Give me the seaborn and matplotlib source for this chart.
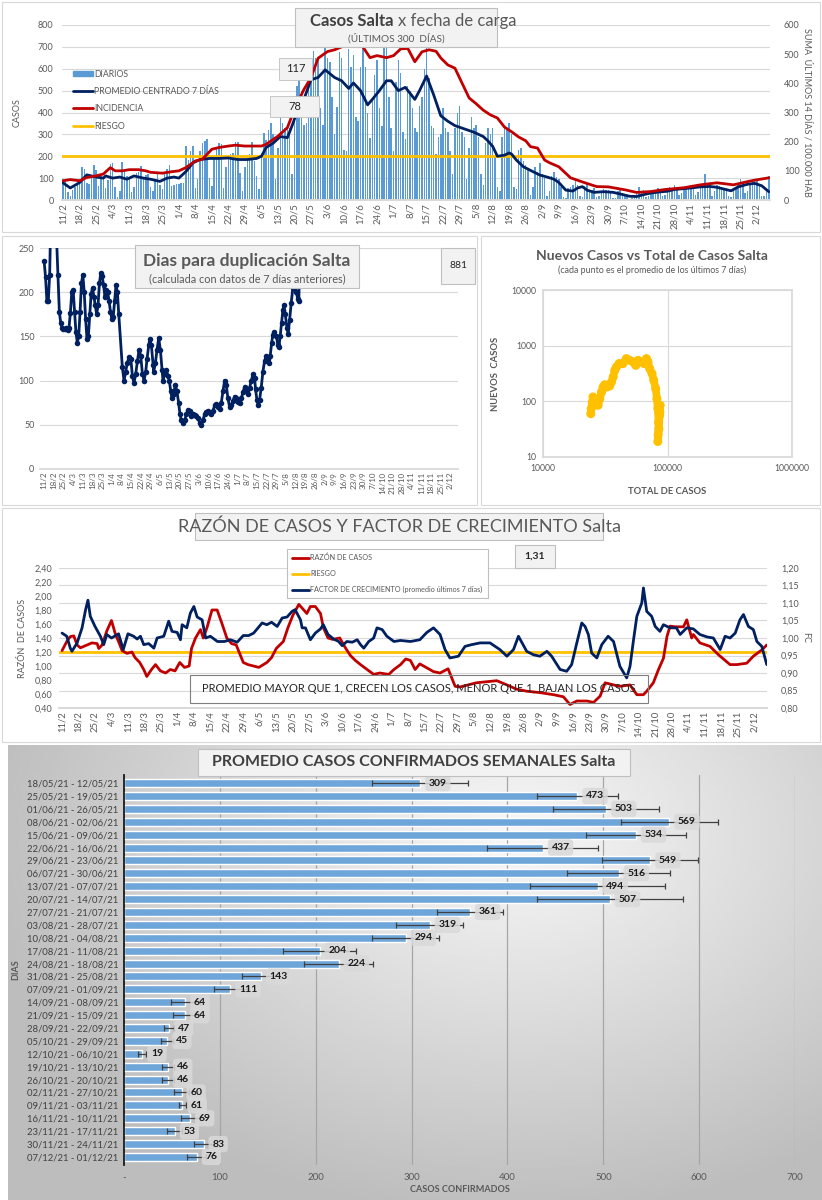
import numpy as np
import pandas as pd
import matplotlib
matplotlib.use("Agg")
import matplotlib.pyplot as plt
from matplotlib.patches import Rectangle, Patch
from matplotlib.lines import Line2D
from matplotlib.ticker import FuncFormatter, NullLocator
import seaborn as sns

# =============================================================================
# DATOS
# =============================================================================
inicio = pd.Timestamp("2021-02-11")

# casos diarios (una fila por semana, desde el jueves 11/2)
diarios = [
    95, 90, 35, 20, 45, 60, 70,
    95, 150, 140, 80, 75, 110, 160,
    135, 65, 110, 95, 55, 90, 165,
    170, 60, 15, 40, 175, 140, 110,
    95, 35, 60, 125, 130, 155, 100,
    115, 120, 60, 40, 95, 130, 70,
    50, 130, 140, 160, 65, 70, 75,
    75, 80, 80, 245, 185, 225, 245,
    55, 95, 225, 260, 270, 280, 100,
    65, 195, 240, 260, 255, 55, 150,
    200, 210, 215, 265, 265, 125, 40,
    150, 205, 210, 265, 180, 110, 50,
    200, 305, 275, 320, 350, 300, 95,
    240, 380, 350, 330, 345, 330, 120,
    380, 520, 560, 500, 345, 350, 520,
    640, 680, 650, 640, 420, 345, 750,
    650, 630, 470, 300, 425, 675, 650,
    230, 225, 690, 610, 665, 380, 360,
    610, 700, 610, 400, 285, 455, 570,
    640, 420, 340, 710, 820, 470, 330,
    225, 540, 640, 580, 310, 280, 520,
    500, 420, 330, 310, 430, 470, 600,
    800, 560, 340, 330, 210, 290, 300,
    420, 330, 310, 225, 120, 330, 400,
    430, 310, 290, 95, 240, 380, 330,
    345, 290, 120, 70, 260, 330, 300,
    330, 200, 60, 40, 290, 330, 330,
    350, 300, 60, 50, 230, 240, 180,
    160, 140, 25, 60, 150, 130, 170,
    120, 100, 20, 40, 110, 130, 105,
    95, 60, 15, 10, 55, 60, 70,
    90, 70, 20, 15, 65, 80, 40,
    45, 55, 15, 20, 40, 50, 45,
    45, 40, 10, 10, 40, 45, 30,
    25, 15, 5, 10, 20, 30, 60,
    40, 45, 15, 20, 40, 45, 40,
    55, 40, 20, 25, 55, 60, 55,
    70, 45, 25, 30, 60, 65, 60,
    70, 50, 25, 35, 65, 70, 120,
    75, 55, 20, 40, 70, 65, 55,
    50, 45, 20, 15, 45, 60, 80,
    95, 80, 30, 40, 70, 85, 90,
    95, 70, 20, 20, 40, 110,
]

# promedio centrado 7 dias (dia desde 11/2, casos)
prom_dia = [0, 3, 7, 10, 14, 17, 18, 21, 24, 27, 30, 34, 37, 41, 44, 47, 49, 52, 55, 58,
            62, 66, 70, 74, 78, 82, 84, 86, 89, 92, 95, 97, 99, 102, 105, 108, 111, 115,
            118, 121, 123, 126, 129, 131, 134, 137, 139, 142, 145, 149, 151, 154, 157,
            160, 163, 166, 170, 174, 178, 180, 182, 184, 187, 189, 190, 192, 195, 199,
            202, 205, 208, 210, 213, 216, 218, 220, 222, 225, 229, 233, 237, 240, 243,
            245, 249, 252, 256, 259, 263, 266, 270, 274, 277, 280, 283, 286, 290, 293,
            296, 299]
prom_val = [78, 55, 80, 115, 105, 100, 110, 100, 105, 95, 110, 100, 95, 85, 100, 105, 100,
            130, 170, 185, 190, 190, 192, 185, 185, 190, 200, 240, 260, 290, 285, 340, 400,
            460, 550, 560, 595, 560, 545, 510, 535, 500, 435, 460, 500, 545, 545, 500, 515,
            460, 500, 567, 480, 385, 360, 340, 325, 310, 290, 270, 245, 200, 205, 215, 210,
            183, 152, 130, 114, 105, 95, 80, 45, 41, 55, 61, 45, 35, 38, 35, 25, 17, 16, 22,
            32, 36, 40, 48, 52, 55, 60, 62, 58, 50, 42, 60, 72, 76, 65, 38]

# incidencia: suma ultimos 14 dias / 100.000 hab
inc_dia = [0, 3, 7, 10, 14, 17, 20, 22, 25, 28, 32, 35, 37, 42, 46, 49, 52, 56, 59, 63,
           66, 70, 73, 77, 84, 86, 91, 95, 98, 102, 105, 108, 112, 115, 118, 121, 124,
           127, 130, 133, 137, 140, 143, 146, 149, 152, 155, 158, 160, 163, 166, 169,
           172, 175, 178, 181, 184, 187, 190, 193, 196, 198, 201, 204, 206, 210, 215,
           220, 226, 231, 238, 243, 249, 255, 263, 270, 277, 284, 290, 293, 299]
inc_val = [66, 70, 66, 77, 83, 89, 111, 100, 100, 104, 104, 100, 95, 92, 97, 100, 111, 134,
           140, 174, 180, 185, 188, 185, 185, 191, 219, 248, 311, 379, 419, 486, 509, 515,
           525, 548, 555, 525, 488, 495, 488, 495, 518, 520, 474, 508, 515, 510, 487, 463,
           452, 401, 350, 330, 308, 292, 281, 250, 234, 216, 203, 183, 178, 137, 128, 114,
           76, 62, 46, 45, 35, 26, 29, 36, 42, 52, 59, 52, 63, 68, 76]

riesgo_casos = 200

# dias para duplicacion
dup_dia = list(range(55)) + [
    56.6, 57.8, 59, 60.2, 61.4, 62.7, 63.9, 65, 66.3, 67.5, 68.7, 69.9, 71.1, 72.3, 73.5,
    74.5, 75.7, 76.4, 77.6, 78.8, 79.3, 80.5, 81.7, 82.9, 84.1, 85.3, 86, 87.2, 88.4, 89.6,
    90.6, 91.6, 92.5, 93.7, 94.9, 96.1, 97.3, 98.3, 99.3, 100.5, 101.7, 102.9, 104.1, 105.3,
    106.5, 107.7, 108.9, 110.1, 111.3, 112.5, 113.7, 114.9, 116.1, 117.3, 118.6, 119.8, 121,
    122.2, 123.4, 124.6, 125.8, 127, 128.2, 129.4, 130.6, 131.8, 133, 134.2, 135.4, 136.6,
    137.8, 139, 140.2, 141.4, 142.7, 143.9, 145.1, 146.3, 147.5, 148.7, 149.9, 151.1, 152.3,
    153, 154, 155, 155.9, 157.1, 158.3, 159.5, 160.7, 161.9, 162.7, 163.6, 164.6, 165.5,
    166.7, 168, 169.2, 169.9, 170.8, 171.8, 172.8, 173.5, 174.5, 175.7, 176.6, 177.6, 178.8,
    180, 181.2, 182.4, 183.6, 184.3, 185.3, 186.3]
dup_val = [
    235, 217, 190, 190, 220, 300, 330, 320, 290, 260,
    220, 178, 165, 160, 158, 158, 160, 157, 160, 177,
    200, 202, 178, 155, 143, 150, 178, 210, 220, 200,
    170, 147, 150, 175, 198, 205, 195, 185, 175, 185,
    210, 222, 218, 208, 195, 202, 200, 190, 178, 170,
    172, 190, 208, 200, 175,
    115, 100, 110, 120, 127, 125, 105, 97, 108, 122, 135, 128, 108, 100, 110,
    125, 140, 147, 140, 118, 110, 120, 135, 148, 135, 112, 100, 108, 112, 105,
    100, 88, 80, 85, 95, 88, 75, 62, 55, 52, 55, 62, 67, 66,
    60, 62, 61, 60, 58, 52, 50, 55, 62, 65, 66, 63, 62,
    66, 72, 73, 70, 68, 75, 88, 100, 95, 80, 70, 72, 77,
    82, 80, 76, 75, 80, 87, 93, 88, 85, 92, 100, 107, 103,
    90, 78, 72, 78, 92, 110, 122, 128, 125, 120, 128, 142, 152,
    155, 150, 140, 138, 150, 165, 180, 185, 175, 160, 153, 168, 188,
    205, 220, 200, 192, 190, 260, 320]

# nuevos casos vs total (promedio 7 dias)
total_casos = [24200, 24400, 24900, 25200, 25900, 26900, 27700, 28600, 29500, 30400, 31300,
               32700, 34300, 35500, 36600, 37700, 38900, 40800, 43900, 46700, 49700, 52900,
               55600, 58000, 60900, 64800, 67700, 69700, 71900, 75100, 77500, 80400, 82200,
               83600, 84700, 84100, 83600, 85300, 86400, 87400, 86800]
nuevos_casos = [60, 74, 97, 120, 111, 97, 85, 111, 147, 181, 199, 181, 189, 222, 274, 360,
                415, 477, 477, 585, 546, 512, 443, 546, 512, 477, 585, 512, 387, 315, 240,
                169, 111, 74, 42, 25, 19, 32, 56, 85, 64]

# razon de casos (eje izq.)
razon_dia = [0, 2, 3.5, 5, 6.4, 7.8, 10.6, 12.7, 14.9, 15.6, 17, 19, 21, 22.7, 24, 25.5,
             27.6, 29.7, 31, 33, 34.7, 36, 38, 39.7, 41.8, 44, 46, 48, 50, 52, 54, 55, 56.7,
             58.8, 60, 61.6, 63.7, 65.9, 68, 70, 72, 74, 77, 79, 83.6, 87, 89, 91, 94, 96,
             98, 100.6, 102.7, 104, 105.5, 107.6, 109.8, 111, 113, 115, 118, 120, 122.5,
             124.6, 126.8, 129.6, 132.4, 135, 138.8, 141, 143.8, 146, 148, 150, 152, 157.8,
             160.6, 164, 167, 169, 176, 184.7, 189, 193, 197.4, 203, 208.8, 213, 215.8,
             218.7, 223, 225.8, 228.6, 230.7, 234.3, 237, 241.3, 244.2, 247, 248.4, 251.2,
             253.4, 255.5, 257, 258.3, 260.5, 264, 265.4, 267.5, 268.2, 271, 275.3, 278.9,
             283.8, 286.7, 290.9, 293.7, 297.3, 299.4]
razon_val = [1.22, 1.35, 1.42, 1.43, 1.30, 1.26, 1.30, 1.33, 1.32, 1.25, 1.30, 1.50, 1.65,
             1.45, 1.35, 1.22, 1.18, 1.20, 1.12, 1.05, 0.95, 0.85, 0.95, 1.02, 0.93, 0.90,
             0.95, 0.93, 1.05, 0.98, 1.00, 1.25, 1.40, 1.52, 1.40, 1.55, 1.80, 1.80, 1.60,
             1.40, 1.32, 1.30, 1.05, 1.02, 0.98, 1.05, 1.12, 1.25, 1.35, 1.55, 1.72, 1.88,
             1.80, 1.75, 1.85, 1.85, 1.75, 1.55, 1.40, 1.38, 1.40, 1.28, 1.15, 1.08, 1.02,
             0.95, 0.88, 0.90, 0.88, 0.95, 1.02, 1.10, 1.08, 0.95, 1.03, 0.92, 0.90, 0.96,
             0.71, 0.70, 0.76, 0.79, 0.73, 0.67, 0.64, 0.62, 0.59, 0.56, 0.45, 0.50, 0.50,
             0.48, 0.57, 0.76, 0.73, 0.71, 0.73, 0.59, 0.59, 0.64, 0.76, 0.95, 1.11, 1.42,
             1.57, 1.56, 1.56, 1.66, 1.40, 1.45, 1.33, 1.28, 1.16, 1.02, 1.02, 1.04, 1.14,
             1.23, 1.30]

# factor de crecimiento (eje der.)
fc_dia = [0, 2, 3.5, 4.2, 6.4, 8.5, 10, 11, 12, 14, 16.3, 17.7, 19, 21, 24, 26, 28, 30.4,
          31.9, 33.3, 34.7, 36.8, 39, 40.4, 43.2, 45.3, 46.7, 48.9, 50.3, 51, 53, 54.5, 56,
          57.4, 59.5, 61, 63, 66, 69, 71.5, 74.4, 77, 79.3, 81.4, 85, 87, 89, 91.4, 93.5,
          95.6, 97.7, 99, 101.3, 102, 103.4, 105.5, 107.6, 109.8, 111, 113, 115.4, 117.5,
          119, 121, 123.3, 125.4, 126.8, 128.2, 130.3, 132.4, 133.8, 136, 138, 141, 143.8,
          148, 152, 155, 157.8, 160.6, 162.7, 164.8, 168.4, 171.2, 174, 177.6, 181.8, 184,
          186, 189, 191.8, 193.9, 197.4, 200.3, 203, 206, 208, 211.6, 214.4, 216.5, 218.7,
          220.8, 222.2, 223.6, 225, 227.2, 229.3, 232, 234.3, 237, 239.9, 241.3, 242.8,
          244.2, 246.3, 247, 248.4, 250.5, 252, 254, 255.5, 258.3, 261, 262.6, 265.4, 268.2,
          271, 274, 276.7, 279.6, 281.7, 283.8, 286, 288, 289.5, 291.6, 293.7, 295.2, 297.3,
          299.4]
fc_val = [1.014, 1.005, 0.971, 0.962, 0.986, 1.029, 1.081, 1.108, 1.062, 1.033, 1.005,
          0.981, 1.010, 1.000, 1.012, 0.967, 1.012, 1.005, 0.997, 1.005, 0.981, 0.984, 0.971,
          1.000, 1.005, 1.048, 1.019, 1.016, 0.995, 1.038, 1.029, 1.071, 1.090, 1.060, 1.052,
          1.000, 1.005, 0.990, 0.990, 0.995, 0.988, 1.007, 1.007, 1.014, 1.043, 1.038, 1.045,
          1.033, 1.057, 1.060, 1.076, 1.081, 1.052, 1.029, 1.029, 0.995, 1.014, 1.026, 1.038,
          1.010, 0.997, 0.990, 0.978, 0.990, 0.988, 0.995, 0.981, 0.971, 0.990, 1.000, 1.029,
          1.024, 1.005, 0.990, 0.993, 0.990, 0.995, 1.016, 1.029, 1.010, 0.967, 0.943, 0.948,
          0.976, 0.981, 0.986, 0.986, 0.976, 0.967, 0.948, 0.967, 1.005, 0.962, 0.952, 0.948,
          0.962, 0.948, 0.910, 0.905, 0.924, 0.986, 1.043, 1.033, 1.010, 0.957, 0.943, 0.981,
          1.005, 0.990, 0.919, 0.886, 0.919, 0.995, 1.062, 1.100, 1.143, 1.076, 1.062, 1.033,
          1.019, 1.038, 1.029, 1.029, 1.010, 1.029, 1.026, 1.010, 1.003, 1.000, 0.967, 1.005,
          1.000, 1.014, 1.052, 1.067, 1.033, 1.024, 0.990, 0.976, 0.924]

riesgo_razon = 1.20

# promedio semanal de casos confirmados
semanas = ["18/05/21 - 12/05/21", "25/05/21 - 19/05/21", "01/06/21 - 26/05/21",
           "08/06/21 - 02/06/21", "15/06/21 - 09/06/21", "22/06/21 - 16/06/21",
           "29/06/21 - 23/06/21", "06/07/21 - 30/06/21", "13/07/21 - 07/07/21",
           "20/07/21 - 14/07/21", "27/07/21 - 21/07/21", "03/08/21 - 28/07/21",
           "10/08/21 - 04/08/21", "17/08/21 - 11/08/21", "24/08/21 - 18/08/21",
           "31/08/21 - 25/08/21", "07/09/21 - 01/09/21", "14/09/21 - 08/09/21",
           "21/09/21 - 15/09/21", "28/09/21 - 22/09/21", "05/10/21 - 29/09/21",
           "12/10/21 - 06/10/21", "19/10/21 - 13/10/21", "26/10/21 - 20/10/21",
           "02/11/21 - 27/10/21", "09/11/21 - 03/11/21", "16/11/21 - 10/11/21",
           "23/11/21 - 17/11/21", "30/11/21 - 24/11/21", "07/12/21 - 01/12/21"]
promedio_semanal = [309, 473, 503, 569, 534, 437, 549, 516, 494, 507, 361, 319, 294, 204, 224,
                    143, 111, 64, 64, 47, 45, 19, 46, 46, 60, 61, 69, 53, 83, 76]
error_semanal = [50, 42, 55, 51, 52, 58, 50, 54, 70, 76, 34, 35, 35, 38, 36, 20, 17, 15, 13,
                 5, 6, 4, 6, 6, 8, 4, 10, 8, 10, 10]

# =============================================================================
# ESTILO / HELPERS
# =============================================================================
sns.set_theme(style="white")
plt.rcParams["font.family"] = ["Lato", "DejaVu Sans"]

GRIS = "#595959"
AZUL = "#002060"
ROJO = "#C00000"
AMARILLO = "#FFC000"

W, H = 822, 1200
fig = plt.figure(figsize=(W / 100, H / 100), dpi=100)


def fechas(dias):
    return inicio + pd.to_timedelta(np.asarray(dias, dtype=float), unit="D")


def ejes(l, t, r, b):
    return fig.add_axes([l / W, 1 - b / H, (r - l) / W, (b - t) / H])


def caja(l, t, r, b, fc="#f2f2f2", ec="#bfbfbf", lw=0.8, z=5):
    fig.patches.append(Rectangle((l / W, 1 - b / H), (r - l) / W, (b - t) / H,
                                 transform=fig.transFigure, facecolor=fc, edgecolor=ec,
                                 lw=lw, zorder=z))


def texto(x, y, s, **kw):
    kw.setdefault("ha", "center")
    kw.setdefault("va", "center")
    kw.setdefault("color", GRIS)
    fig.text(x / W, 1 - y / H, s, zorder=6, **kw)


def coma(v, _=None):
    return f"{v:.2f}".replace(".", ",")


tick_fechas = pd.date_range("2021-02-11", "2021-12-02", freq="7D")
tick_labels = [f"{d.day}/{d.month}" for d in tick_fechas]


def eje_fechas(ax, lo, hi, size=6.5):
    ax.set_xlim(inicio + pd.Timedelta(days=lo), inicio + pd.Timedelta(days=hi))
    ax.set_xticks(tick_fechas)
    ax.set_xticklabels(tick_labels, rotation=90, fontsize=size, color=GRIS)
    ax.tick_params(axis="x", length=0, pad=2)


def limpiar(ax):
    for s in ["top", "left", "right"]:
        ax.spines[s].set_visible(False)
    ax.spines["bottom"].set_color("#d9d9d9")
    ax.set_xlabel("")


# marcos de los paneles
caja(2, 2, 820, 232, fc="white", ec="#d9d9d9", z=-2)
caja(2, 236, 477, 505, fc="white", ec="#d9d9d9", z=-2)
caja(481, 236, 820, 505, fc="white", ec="#d9d9d9", z=-2)
caja(2, 508, 820, 742, fc="white", ec="#d9d9d9", z=-2)

# =============================================================================
# PANEL 1: casos diarios
# =============================================================================
ax1 = ejes(62, 25, 770, 200)
ax1.set_facecolor("none")
ax1.bar(fechas(range(len(diarios))), diarios, width=0.62, color="#5b9bd5", alpha=1,
        linewidth=0, zorder=2)
ax1.axhline(riesgo_casos, color=AMARILLO, lw=2, zorder=3)
sns.lineplot(x=fechas(prom_dia), y=prom_val, ax=ax1, color=AZUL, lw=2, zorder=4)
ax1.set_ylim(0, 800)
ax1.set_yticks(range(0, 801, 100))
ax1.yaxis.grid(True, color="#d9d9d9", lw=0.8)
ax1.set_axisbelow(True)
ax1.tick_params(axis="y", labelsize=6.5, labelcolor=GRIS, length=0, pad=6)
ax1.set_ylabel("CASOS", fontsize=6.5, color=GRIS, labelpad=12)
eje_fechas(ax1, -0.5, 299.5, size=6.8)
limpiar(ax1)

ax1b = ax1.twinx()
sns.lineplot(x=fechas(inc_dia), y=inc_val, ax=ax1b, color=ROJO, lw=2)
ax1b.set_ylim(0, 600)
ax1b.set_yticks(range(0, 601, 100))
ax1b.tick_params(axis="y", labelsize=6.5, labelcolor=GRIS, length=0, pad=10)
ax1b.set_ylabel("SUMA  ÚLTIMOS 14 DÍAS / 100.000 HAB", fontsize=6.5, color=GRIS,
                rotation=270, labelpad=9)
eje_fechas(ax1b, -0.5, 299.5, size=6.8)
limpiar(ax1b)

handles = [Patch(color="#5b9bd5"), Line2D([], [], color=AZUL, lw=2),
           Line2D([], [], color=ROJO, lw=2), Line2D([], [], color=AMARILLO, lw=2)]
ax1b.legend(handles, ["DIARIOS", "PROMEDIO CENTRADO 7 DÍAS", "INCIDENCIA", "RIESGO"],
            loc="upper left", bbox_to_anchor=(0.005, 0.79), frameon=False, fontsize=6.3,
            labelcolor=GRIS, handlelength=2.2, handleheight=0.5, labelspacing=0.95,
            handletextpad=0.2)

caja(295, 8, 497, 47)
texto(393, 21, "Casos Salta", ha="right", fontsize=12, weight="bold", color="#404040")
texto(398, 21, "x fecha de carga", ha="left", fontsize=12, color=GRIS)
texto(396, 38, "(ÚLTIMOS 300  DÍAS)", fontsize=7.2, color=GRIS)
caja(279, 58, 312, 80, lw=0.6)
texto(295.5, 69, "117", fontsize=8, color="#262626")
caja(270, 96, 319, 117, lw=0.6)
texto(294.5, 106.5, "78", fontsize=8, color="#262626")

# =============================================================================
# PANEL 2: dias para duplicacion
# =============================================================================
ax2 = ejes(40, 248, 458, 469)
sns.lineplot(x=fechas(dup_dia), y=dup_val, ax=ax2, color=AZUL, lw=2, marker="o",
             markersize=4, markeredgewidth=0)
ax2.set_ylim(0, 250)
ax2.set_yticks(range(0, 251, 50))
ax2.yaxis.grid(True, color="#d9d9d9", lw=0.8)
ax2.set_axisbelow(True)
ax2.tick_params(axis="y", labelsize=6.5, labelcolor=GRIS, length=0, pad=4)
ax2.set_ylabel("")
eje_fechas(ax2, -3, 299.5, size=5.8)
limpiar(ax2)

caja(135, 245, 359, 288)
texto(247, 261, "Dias para duplicación Salta", fontsize=12.5, weight="bold", color=GRIS)
texto(247, 279, "(calculada con datos de 7 días anteriores)", fontsize=7.8, color=GRIS)
caja(441, 248, 475, 284)
texto(458, 266, "881", fontsize=7.5, color="#262626")

# =============================================================================
# PANEL 3: nuevos casos vs total
# =============================================================================
ax3 = ejes(543, 290, 792, 457)
sns.lineplot(x=total_casos, y=nuevos_casos, ax=ax3, sort=False, estimator=None,
             color=AMARILLO, lw=5.5)
sns.scatterplot(x=total_casos, y=nuevos_casos, ax=ax3, color=AMARILLO, s=42,
                edgecolor="none", zorder=3)
ax3.set_xscale("log")
ax3.set_yscale("log")
ax3.set_xlim(1e4, 1e6)
ax3.set_ylim(10, 1e4)
ax3.xaxis.set_minor_locator(NullLocator())
ax3.yaxis.set_minor_locator(NullLocator())
ax3.xaxis.set_major_formatter(FuncFormatter(lambda v, _: f"{int(round(v))}"))
ax3.yaxis.set_major_formatter(FuncFormatter(lambda v, _: f"{int(round(v))}"))
ax3.grid(True, color="#d9d9d9", lw=0.8)
for s in ax3.spines.values():
    s.set_color("#d9d9d9")
ax3.tick_params(labelsize=6.2, labelcolor=GRIS, length=0, pad=5)
ax3.set_xlabel("TOTAL DE CASOS", fontsize=6.8, weight="bold", color=GRIS, labelpad=10)
ax3.set_ylabel("NUEVOS  CASOS", fontsize=6.8, weight="bold", color=GRIS, labelpad=8)
texto(652, 256, "Nuevos Casos vs Total de Casos Salta", fontsize=10, weight="bold")
texto(652, 270, "(cada punto es el promedio de los últimos 7 días)", fontsize=6.4)

# =============================================================================
# PANEL 4: razon de casos y factor de crecimiento
# =============================================================================
ax4 = ejes(59, 568, 767, 708)
ax4.set_facecolor("none")
for r in np.arange(0.80, 1.2001, 0.05):
    ax4.axhline(0.4 + (r - 0.8) * 5, color="#d9d9d9", lw=0.8, zorder=0)
ax4.axhline(riesgo_razon, color=AMARILLO, lw=2, zorder=3)
sns.lineplot(x=fechas(razon_dia), y=razon_val, ax=ax4, color=ROJO, lw=2, zorder=4)
ax4.set_ylim(0.4, 2.4)
ax4.set_yticks(np.arange(0.4, 2.401, 0.2))
ax4.yaxis.set_major_formatter(FuncFormatter(coma))
ax4.tick_params(axis="y", labelsize=6.5, labelcolor=GRIS, length=0, pad=5)
ax4.set_ylabel("RAZÓN  DE CASOS", fontsize=6.5, color=GRIS, labelpad=5)
eje_fechas(ax4, -1.3, 299.5, size=6.8)
limpiar(ax4)

ax4b = ax4.twinx()
sns.lineplot(x=fechas(fc_dia), y=fc_val, ax=ax4b, color=AZUL, lw=2)
ax4b.set_ylim(0.8, 1.2)
ax4b.set_yticks(np.arange(0.8, 1.2001, 0.05))
ax4b.yaxis.set_major_formatter(FuncFormatter(coma))
ax4b.tick_params(axis="y", labelsize=6.5, labelcolor=GRIS, length=0, pad=10)
ax4b.set_ylabel("FC", fontsize=6.5, color=GRIS, rotation=270, labelpad=8)
eje_fechas(ax4b, -1.3, 299.5, size=6.8)
limpiar(ax4b)

caja(195, 513, 603, 540)
texto(399, 527, "RAZÓN DE CASOS Y FACTOR DE CRECIMIENTO Salta", fontsize=13, color=GRIS)
handles4 = [Line2D([], [], color=ROJO, lw=2), Line2D([], [], color=AMARILLO, lw=2),
            Line2D([], [], color=AZUL, lw=2)]
leg4 = ax4b.legend(handles4, ["RAZÓN DE CASOS", "RIESGO",
                              "FACTOR DE CRECIMIENTO (promedio últimos 7 días)"],
                   loc="upper left", bbox_to_anchor=(283 / W, 1 - 545 / H),
                   bbox_transform=fig.transFigure, fontsize=5.2, labelcolor=GRIS,
                   frameon=True, fancybox=False, edgecolor="#bfbfbf", framealpha=1,
                   handlelength=2.4, labelspacing=1.25, handletextpad=0.2,
                   borderpad=0.7)
leg4.get_frame().set_linewidth(0.8)
caja(515, 545, 555, 568)
texto(535, 556.5, "1,31", fontsize=7.5, weight="bold", color="#262626")
caja(190, 675, 648, 703, fc="none", ec="#7f7f7f")
texto(419, 689, "PROMEDIO MAYOR QUE 1, CRECEN LOS CASOS, MENOR QUE 1, BAJAN LOS CASOS",
      fontsize=8, color="#262626")

# =============================================================================
# PANEL 5: promedio semanal
# =============================================================================
axg = ejes(8, 745, 822, 1200)
gx, gy = np.meshgrid(np.linspace(0, 1, 200), np.linspace(0, 1, 200))
dist = np.sqrt(((gx - 0.62) / 0.75) ** 2 + ((gy - 0.8) / 0.95) ** 2)
fondo = np.clip(0.97 - 0.26 * dist, 0.74, 0.97)
axg.imshow(fondo, extent=(0, 1, 0, 1), origin="lower", aspect="auto", cmap="gray",
           vmin=0, vmax=1)
axg.axis("off")
axg.set_zorder(-1)

axb = ejes(124, 775.3, 795, 1164.7)
axb.set_facecolor("none")
df_sem = pd.DataFrame({"semana": semanas, "promedio": promedio_semanal})
sns.barplot(data=df_sem, y="semana", x="promedio", orient="h", color="#6fa6da",
            saturation=1, width=0.62, ax=axb)
axb.errorbar(promedio_semanal, np.arange(len(semanas)), xerr=error_semanal, fmt="none",
             ecolor="#404040", elinewidth=0.9, capsize=2.2, capthick=0.9, zorder=4)
for i, v in enumerate(promedio_semanal):
    axb.text(v + 9, i, str(v), ha="left", va="center", fontsize=7.5, weight="bold",
             color="#1a1a1a", zorder=5,
             bbox=dict(boxstyle="round,pad=0.35", fc="#d9d9d9", ec="none", alpha=0.85))
axb.set_xlim(0, 700)
axb.set_ylim(len(semanas) - 0.4, -0.6)
axb.set_xticks(range(0, 701, 100))
axb.set_xticklabels(["-"] + [str(v) for v in range(100, 701, 100)])
axb.xaxis.grid(True, color="#a6a6a6", lw=0.9)
axb.set_axisbelow(True)
axb.tick_params(axis="x", labelsize=7, labelcolor=GRIS, length=0, pad=6)
axb.tick_params(axis="y", labelsize=6.8, labelcolor="#404040", length=0, pad=4)
for s in ["top", "right", "bottom"]:
    axb.spines[s].set_visible(False)
axb.spines["left"].set_color("#1a1a1a")
axb.spines["left"].set_linewidth(1.3)
axb.set_xlabel("CASOS CONFIRMADOS", fontsize=6.5, weight="bold", color=GRIS, labelpad=2)
axb.set_ylabel("DIAS", fontsize=6.5, weight="bold", color=GRIS, labelpad=5)

caja(198, 749, 630, 776, fc="#f2f2f2", ec="#bfbfbf")
texto(414, 762.5, "PROMEDIO CASOS CONFIRMADOS SEMANALES Salta", fontsize=11.5,
      weight="bold", color="#404040")

fig.savefig("out.png", dpi=100)
